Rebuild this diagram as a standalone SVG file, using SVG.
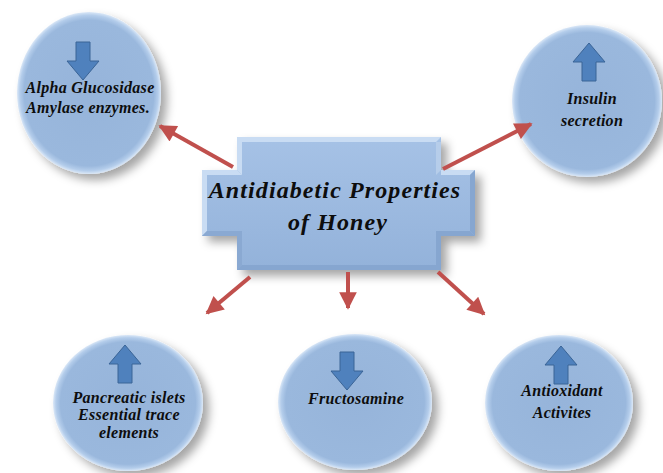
<svg xmlns="http://www.w3.org/2000/svg" width="663" height="473" viewBox="0 0 663 473">
<defs>
  <radialGradient id="cg" cx="50%" cy="50%" r="50%">
    <stop offset="0" stop-color="#96b4da"/>
    <stop offset="0.9" stop-color="#9ab8dd"/>
    <stop offset="0.96" stop-color="#b4cdeb"/>
    <stop offset="1" stop-color="#dbe8f7"/>
  </radialGradient>
  <linearGradient id="bg" x1="0" y1="0" x2="0" y2="1">
    <stop offset="0" stop-color="#a6c2e6"/>
    <stop offset="1" stop-color="#93b2da"/>
  </linearGradient>
  <filter id="sh" x="-20%" y="-20%" width="150%" height="150%">
    <feGaussianBlur in="SourceAlpha" stdDeviation="5"/>
    <feOffset dx="6" dy="6" result="b"/>
    <feFlood flood-color="#000" flood-opacity="0.35"/>
    <feComposite in2="b" operator="in"/>
    <feMerge><feMergeNode/><feMergeNode in="SourceGraphic"/></feMerge>
  </filter>
  <marker id="ah" viewBox="0 0 10 10" refX="9" refY="5" markerWidth="4.8" markerHeight="4.4" orient="auto" markerUnits="strokeWidth">
    <path d="M0,0 L10,5 L0,10 z" fill="#c0504d"/>
  </marker>
  <path id="dn" d="M-7,0 H7 V19 H16 L0,38 L-16,19 H-7 Z"/>
  <path id="up" d="M-7,38 H7 V19 H16 L0,0 L-16,19 H-7 Z"/>
</defs>
<style>
  .c{fill:url(#cg);filter:url(#sh);}
  .ba{fill:#4f81bd;stroke:#3a6496;stroke-width:1;}
  .t{font-family:'Liberation Serif','Times New Roman',serif;font-weight:700;font-style:italic;fill:#0d0d0d;text-anchor:middle;}
  .s{font-size:16px;letter-spacing:0.3px;}
  .big{font-size:24px;letter-spacing:1.1px;}
  .cn{stroke:#c0504d;stroke-width:4;fill:none;marker-end:url(#ah);}
</style>
<rect width="663" height="473" fill="#fff"/>

<g id="center">
  <path d="M237,137 H441 V170 H475 V236 H441 V270 H237 V236 H202 V170 H237 Z" fill="url(#bg)" filter="url(#sh)"/>
  <path d="M237,137 H441 L436,142 H242 V175 L237,170 Z" fill="#c9dcf3"/>
  <path d="M202,170 H237 L242,175 H207 V231 L202,236 Z" fill="#c9dcf3"/>
  <path d="M441,170 H475 L470,175 H441 Z" fill="#c9dcf3"/>
  <path d="M441,142 L436,142 V175 L441,170 Z" fill="#b6cdea"/>
  <path d="M475,170 V236 L470,231 V175 Z" fill="#86a6d0"/>
  <path d="M202,236 H237 V270 L242,265 V231 H207 Z" fill="#8aa9d2"/>
  <path d="M237,270 H441 V236 H475 L470,231 H436 V265 H242 Z" fill="#86a6d0"/>
  <text class="t big" x="335" y="198">Antidiabetic Properties</text>
  <text class="t big" x="338" y="230">of Honey</text>
</g>

<g id="alpha">
  <ellipse class="c" cx="89" cy="93" rx="72" ry="81"/>
  <use href="#dn" class="ba" transform="translate(83,42)"/>
  <text class="t s" x="90" y="93">Alpha Glucosidase</text>
  <text class="t s" x="88" y="113">Amylase enzymes.</text>
</g>

<g id="insulin">
  <ellipse class="c" cx="587" cy="101" rx="75" ry="76"/>
  <use href="#up" class="ba" transform="translate(589,43)"/>
  <text class="t s" x="592" y="104">Insulin</text>
  <text class="t s" x="592" y="126">secretion</text>
</g>

<g id="pancreatic">
  <ellipse class="c" cx="128" cy="403" rx="75" ry="68"/>
  <use href="#up" class="ba" transform="translate(125,345)"/>
  <text class="t s" x="129" y="403">Pancreatic islets</text>
  <text class="t s" x="129" y="420">Essential trace</text>
  <text class="t s" x="129" y="438">elements</text>
</g>

<g id="fructosamine">
  <ellipse class="c" cx="355" cy="402" rx="77" ry="68"/>
  <use href="#dn" class="ba" transform="translate(347,352)"/>
  <text class="t s" x="356" y="404">Fructosamine</text>
</g>

<g id="antioxidant">
  <ellipse class="c" cx="559" cy="403" rx="74" ry="68"/>
  <use href="#up" class="ba" transform="translate(561,346)"/>
  <text class="t s" x="562" y="396">Antioxidant</text>
  <text class="t s" x="562" y="418">Activites</text>
</g>

<g id="connectors">
  <line class="cn" x1="233" y1="167" x2="160" y2="126"/>
  <line class="cn" x1="443" y1="169" x2="531" y2="124"/>
  <line class="cn" x1="250" y1="277" x2="207" y2="313"/>
  <line class="cn" x1="348" y1="272" x2="348" y2="308"/>
  <line class="cn" x1="438" y1="272" x2="484" y2="314"/>
</g>
</svg>
